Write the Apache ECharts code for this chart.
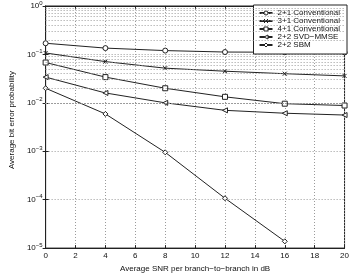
<!DOCTYPE html>
<html>
<head>
<meta charset="utf-8">
<script src="https://cdn.jsdelivr.net/npm/echarts@6/dist/echarts.min.js"></script>
<style>
  html, body { margin: 0; padding: 0; background: #fff; }
  #chart { width: 352px; height: 278px; }
</style>
</head>
<body>
<div id="chart"></div>
<script>
// SNR points (dB)
var snr = [0, 4, 8, 12, 16, 20];
// average bit error probability per scheme
var conv21 = [0.17, 0.135, 0.12, 0.112, 0.111, 0.11];
var conv31 = [0.107, 0.071, 0.052, 0.045, 0.040, 0.036];
var conv41 = [0.068, 0.034, 0.020, 0.0133, 0.0096, 0.0088];
var svdMmse = [0.034, 0.016, 0.010, 0.0070, 0.0061, 0.0056];
var sbm = [0.020, 0.0059, 0.00095, 0.000107, 0.0000138];
var names = ['2+1 Conventional', '3+1 Conventional', '4+1 Conventional', '2+2 SVD\u2212MMSE', '2+2 SBM'];

var font = 'Liberation Sans';
var gridColor = '#9a9a9a';
var dotted = [1, 2];

// minor log grid lines (2..9 of each decade)
var minorLines = [];
for (var e = -5; e < 0; e++) {
    for (var m = 2; m <= 9; m++) {
        minorLines.push({ yAxis: m * Math.pow(10, e) });
    }
}

function pairs(xs, ys) {
    var out = [];
    for (var i = 0; i < ys.length; i++) out.push([xs[i], ys[i]]);
    return out;
}

var marks = [
    'circle',
    'path://M0,0 L10,10 M10,0 L0,10',
    'rect',
    'path://M0,5 L10,0 L10,10 Z',
    'diamond'
];
var sizes = [5, 4, 5, 5, 5];
var values = [conv21, conv31, conv41, svdMmse, sbm];

var series = [];
for (var k = 0; k < values.length; k++) {
    var s = {
        name: names[k],
        type: 'line',
        data: pairs(snr, values[k]),
        symbol: marks[k],
        symbolSize: sizes[k],
        showAllSymbol: true,
        lineStyle: { color: '#222', width: 1 },
        itemStyle: { color: '#fff', borderColor: '#222', borderWidth: 1 },
        emphasis: { disabled: true },
        animation: false,
        z: 3
    };
    if (k === 0) {
        s.markLine = {
            silent: true,
            symbol: ['none', 'none'],
            label: { show: false },
            lineStyle: { color: gridColor, type: dotted, width: 1 },
            data: minorLines,
            animation: false
        };
    }
    series.push(s);
}

var myChart = echarts.init(document.getElementById('chart'));
var option = {
    backgroundColor: '#fff',
    textStyle: { fontFamily: font },
    grid: {
        left: 22, right: 6, top: 4, bottom: 21,
        show: true, borderColor: '#222', borderWidth: 1,
        backgroundColor: 'transparent'
    },
    legend: {
        right: 5, top: 5,
        orient: 'vertical',
        backgroundColor: '#fff',
        borderColor: '#222', borderWidth: 1,
        borderRadius: 0,
        padding: [4, 7, 5, 5],
        itemGap: 0,
        itemWidth: 13, itemHeight: 5,
        itemStyle: { color: '#fff', borderColor: '#222', borderWidth: 1 },
        textStyle: { fontSize: 8, color: '#111', fontFamily: font, lineHeight: 6.6 },
        data: names
    },
    xAxis: [{
        type: 'value', min: 0, max: 20, interval: 2,
        name: 'Average SNR per branch\u2212to\u2212branch in dB',
        nameLocation: 'middle', nameGap: 11,
        nameTextStyle: { fontSize: 8, color: '#111' },
        axisLine: { lineStyle: { color: '#222' } },
        axisTick: { inside: true, length: 3, lineStyle: { color: '#222' } },
        axisLabel: { fontSize: 8, color: '#111', margin: 4 },
        splitLine: { show: true, lineStyle: { color: gridColor, type: dotted } }
    }, {
        type: 'value', min: 0, max: 20, interval: 2, position: 'top',
        axisLine: { lineStyle: { color: '#222' } },
        axisTick: { inside: true, length: 3, lineStyle: { color: '#222' } },
        axisLabel: { show: false },
        splitLine: { show: false }
    }],
    yAxis: [{
        type: 'log', logBase: 10, min: 1e-5, max: 1,
        name: 'Average bit error probability',
        nameLocation: 'middle', nameGap: 16,
        nameTextStyle: { fontSize: 8, color: '#111', padding: [0, 0, 0, 14] },
        axisLine: { lineStyle: { color: '#222' } },
        axisTick: { inside: true, length: 3, lineStyle: { color: '#222' } },
        axisLabel: {
            margin: 3,
            formatter: function (v) {
                var p = Math.round(Math.log10(v));
                return '{b|10}{s|' + (p < 0 ? '\u2212' + (-p) : p) + '}';
            },
            rich: {
                b: { fontSize: 8, color: '#111', fontFamily: font },
                s: { fontSize: 6, color: '#111', fontFamily: font, verticalAlign: 'bottom', padding: [0, 0, 6, 0] }
            }
        },
        splitLine: { show: true, lineStyle: { color: gridColor, type: dotted } }
    }, {
        type: 'log', logBase: 10, min: 1e-5, max: 1, position: 'right',
        axisLine: { lineStyle: { color: '#222' } },
        axisTick: { inside: true, length: 3, lineStyle: { color: '#222' } },
        axisLabel: { show: false },
        splitLine: { show: false }
    }],
    series: series
};
myChart.setOption(option);
</script>
</body>
</html>
